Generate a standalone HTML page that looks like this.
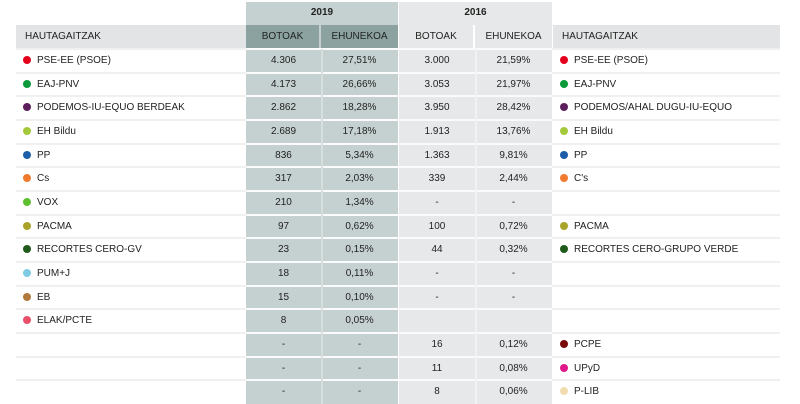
<!DOCTYPE html>
<html><head><meta charset="utf-8"><style>
body{margin:0;width:800px;height:404px;overflow:hidden;background:#fff;font-family:"Liberation Sans",Arial,sans-serif;font-size:10px;color:#222;position:relative}
.a{position:absolute;box-sizing:border-box}
.c{text-align:center}
.dot{display:inline-block;width:8px;height:8px;border-radius:50%;margin-right:6px;vertical-align:-1px}
</style></head><body>
<div class="a" style="left:246px;top:2px;width:152px;height:402px;background:#c5d1d0"></div>
<div class="a" style="left:399px;top:2px;width:153px;height:402px;background:#e7e8e9"></div>
<div class="a c" style="left:246px;top:2px;width:152px;height:22px;line-height:22px;font-weight:bold">2019</div>
<div class="a c" style="left:399px;top:2px;width:153px;height:22px;line-height:22px;font-weight:bold">2016</div>
<div class="a" style="left:16px;top:25px;width:230px;height:24px;line-height:24px;background:#e3e4e5;padding-left:9px">HAUTAGAITZAK</div>
<div class="a c" style="left:246px;top:25px;width:75px;height:24px;line-height:24px;background:#8ba2a1;border-right:2px solid #c5d1d0">BOTOAK</div>
<div class="a c" style="left:321px;top:25px;width:77px;height:24px;line-height:24px;background:#8ba2a1">EHUNEKOA</div>
<div class="a c" style="left:399px;top:25px;width:76px;height:24px;line-height:24px;border-right:2px solid #fff">BOTOAK</div>
<div class="a c" style="left:475px;top:25px;width:77px;height:24px;line-height:24px">EHUNEKOA</div>
<div class="a" style="left:553px;top:25px;width:227px;height:24px;line-height:24px;background:#e3e4e5;padding-left:9px">HAUTAGAITZAK</div>
<div id="rows"></div>
<script>
const names19=["PSE-EE (PSOE)","EAJ-PNV","PODEMOS-IU-EQUO BERDEAK","EH Bildu","PP","Cs","VOX","PACMA","RECORTES CERO-GV","PUM+J","EB","ELAK/PCTE","","",""];
const colors19=["#e3001b","#0b9a3a","#5b1f5e","#a3c83a","#1d5ea8","#f07b2e","#5fc132","#aaa32a","#1f5a1a","#7ecbe4","#b07a3a","#e8506a","","",""];
const votes19=["4.306","4.173","2.862","2.689","836","317","210","97","23","18","15","8","-","-","-"];
const pct19=["27,51%","26,66%","18,28%","17,18%","5,34%","2,03%","1,34%","0,62%","0,15%","0,11%","0,10%","0,05%","-","-","-"];
const votes16=["3.000","3.053","3.950","1.913","1.363","339","-","100","44","-","-","","16","11","8"];
const pct16=["21,59%","21,97%","28,42%","13,76%","9,81%","2,44%","-","0,72%","0,32%","-","-","","0,12%","0,08%","0,06%"];
const names16=["PSE-EE (PSOE)","EAJ-PNV","PODEMOS/AHAL DUGU-IU-EQUO","EH Bildu","PP","C's","","PACMA","RECORTES CERO-GRUPO VERDE","","","","PCPE","UPyD","P-LIB"];
const colors16=["#e3001b","#0b9a3a","#5b1f5e","#a3c83a","#1d5ea8","#f07b2e","","#aaa32a","#1f5a1a","","","","#7a0b0b","#e0198a","#f1dcb0"];
const R=document.getElementById('rows');
const H=23.67,T=49;
function cell(x,w,y,txt,cls,name,bg){const d=document.createElement('div');d.className='a '+cls;


d.style.cssText=`left:${x}px;top:${y}px;width:${w}px;height:${H}px;line-height:${H}px;${bg||''}`;d.innerHTML=txt;R.appendChild(d);}
function lab(n,c){return n?`<span class="dot" style="background:${c}"></span>${n}`:'';}
names19.forEach((n,i)=>{const y=T+i*H;
 const sep=document.createElement('div');sep.className='a';
 
 
 sep.style.cssText=`left:16px;top:${y-1}px;width:764px;height:2px;background:#f0f0f0`;R.appendChild(sep);
 const s2=document.createElement('div');s2.className='a';
 
 
 s2.style.cssText=`left:246px;top:${y-1}px;width:306px;height:2px;background:#fff;opacity:.7`;R.appendChild(s2);
 cell(16,230,y,lab(n,colors19[i]),'','candidate-2019','padding-left:7px');
 cell(246,75,y,votes19[i],'c','votes-2019');
 cell(321,77,y,pct19[i],'c','percent-2019');
 cell(399,76,y,votes16[i],'c','votes-2016');
 cell(475,77,y,pct16[i],'c','percent-2016');
 cell(553,227,y,lab(names16[i],colors16[i]),'','candidate-2016','padding-left:7px');
});
const v=document.createElement('div');v.className='a';


v.style.cssText='left:321px;top:49px;width:2px;height:355px;background:#d6dfde';R.appendChild(v);
const v2=document.createElement('div');v2.className='a';


v2.style.cssText='left:475px;top:49px;width:2px;height:355px;background:#f2f2f3';R.appendChild(v2);
</script>
</body></html>
